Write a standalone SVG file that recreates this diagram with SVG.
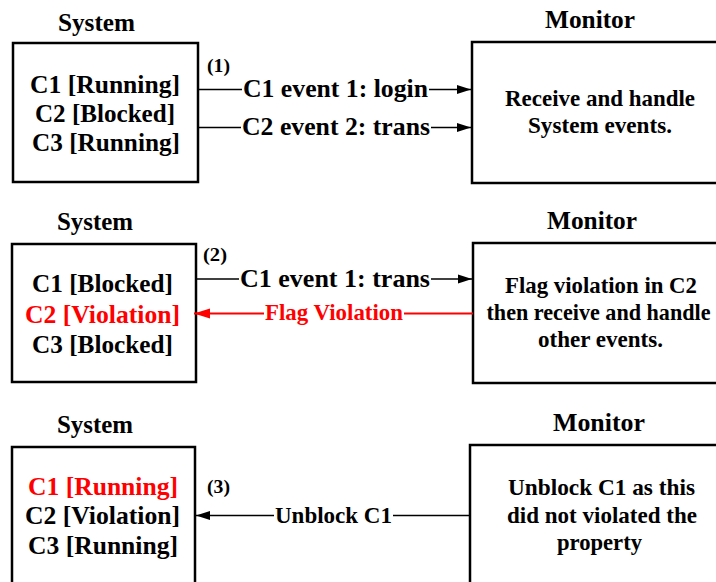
<svg xmlns="http://www.w3.org/2000/svg" width="716" height="582" viewBox="0 0 716 582">
<defs>
<marker id="ah" viewBox="0 0 14 10" refX="14" refY="5" markerWidth="14" markerHeight="10" markerUnits="userSpaceOnUse" orient="auto">
<path d="M0,0.5 L14,5 L0,9.5 z" fill="#000"/>
</marker>
<marker id="ahr" viewBox="0 0 16 11" refX="16" refY="5.5" markerWidth="16" markerHeight="11" markerUnits="userSpaceOnUse" orient="auto">
<path d="M0,0.5 L16,5.5 L0,10.5 z" fill="#f00"/>
</marker>
</defs>
<style>
text{font-family:"Liberation Serif","Times New Roman",Times,serif;font-weight:bold;fill:#000}
.ttl{font-size:25.3px;text-anchor:middle}
.st{font-size:25.6px;text-anchor:middle}
.mt{font-size:23px;text-anchor:middle}
.lb{font-size:25.7px;text-anchor:middle}
.num{font-size:19px}
.red{fill:#f00}
.box{fill:#fff;stroke:#000;stroke-width:2.5}
.ln{stroke:#000;stroke-width:1.3;fill:none}
.lnr{stroke:#f00;stroke-width:2;fill:none}
.bg{fill:#fff}
</style>
<rect width="716" height="582" fill="#fff"/>

<!-- Panel 1 -->
<g id="system1">
<text class="ttl" x="96.5" y="31" textLength="77" lengthAdjust="spacingAndGlyphs">System</text>
<rect class="box" x="13" y="43" width="185" height="139"/>
<text class="st" x="105" y="93" textLength="150" lengthAdjust="spacingAndGlyphs">C1 [Running]</text>
<text class="st" x="105" y="121.5" textLength="140" lengthAdjust="spacingAndGlyphs">C2 [Blocked]</text>
<text class="st" x="106" y="151" textLength="148" lengthAdjust="spacingAndGlyphs">C3 [Running]</text>
</g>
<g id="monitor1">
<text class="ttl" x="590" y="28" textLength="90" lengthAdjust="spacingAndGlyphs">Monitor</text>
<rect class="box" x="472" y="42" width="250" height="141"/>
<text class="mt" x="600" y="106" textLength="190" lengthAdjust="spacingAndGlyphs">Receive and handle</text>
<text class="mt" x="600" y="133" textLength="144" lengthAdjust="spacingAndGlyphs">System events.</text>
</g>

<!-- Panel 2 -->
<g id="system2">
<text class="ttl" x="95" y="230" textLength="76" lengthAdjust="spacingAndGlyphs">System</text>
<rect class="box" x="12" y="244" width="184" height="138"/>
<text class="st" x="102.5" y="292" textLength="141" lengthAdjust="spacingAndGlyphs">C1 [Blocked]</text>
<text class="st red" x="102.5" y="323" textLength="155" lengthAdjust="spacingAndGlyphs">C2 [Violation]</text>
<text class="st" x="102.5" y="353" textLength="141" lengthAdjust="spacingAndGlyphs">C3 [Blocked]</text>
</g>
<g id="monitor2">
<text class="ttl" x="592" y="229" textLength="90" lengthAdjust="spacingAndGlyphs">Monitor</text>
<rect class="box" x="473" y="243" width="250" height="140"/>
<text class="mt" x="601" y="293" textLength="192" lengthAdjust="spacingAndGlyphs">Flag violation in C2</text>
<text class="mt" x="598.5" y="320" textLength="224" lengthAdjust="spacingAndGlyphs">then receive and handle</text>
<text class="mt" x="600.5" y="347" textLength="125" lengthAdjust="spacingAndGlyphs">other events.</text>
</g>

<!-- Panel 3 -->
<g id="system3">
<text class="ttl" x="95" y="433" textLength="76" lengthAdjust="spacingAndGlyphs">System</text>
<rect class="box" x="12" y="447" width="183" height="145"/>
<text class="st red" x="103" y="495" textLength="150" lengthAdjust="spacingAndGlyphs">C1 [Running]</text>
<text class="st" x="102.5" y="524" textLength="155" lengthAdjust="spacingAndGlyphs">C2 [Violation]</text>
<text class="st" x="103" y="554" textLength="150" lengthAdjust="spacingAndGlyphs">C3 [Running]</text>
</g>
<g id="monitor3">
<text class="ttl" x="599" y="431" textLength="92" lengthAdjust="spacingAndGlyphs">Monitor</text>
<rect class="box" x="470" y="445" width="252" height="147"/>
<text class="mt" x="601.5" y="495" textLength="187" lengthAdjust="spacingAndGlyphs">Unblock C1 as this</text>
<text class="mt" x="602" y="523" textLength="190" lengthAdjust="spacingAndGlyphs">did not violated the</text>
<text class="mt" x="599.5" y="550" textLength="85" lengthAdjust="spacingAndGlyphs">property</text>
</g>

<!-- Connectors -->
<g id="connectors">
<g id="c1">
<line class="ln" x1="199" y1="89.5" x2="471" y2="89.5" marker-end="url(#ah)"/>
<rect class="bg" x="242" y="78" width="187" height="24"/>
<text class="lb" x="335.5" y="97" textLength="185" lengthAdjust="spacingAndGlyphs">C1 event 1: login</text>
<text class="num" x="207" y="72" textLength="23" lengthAdjust="spacingAndGlyphs">(1)</text>
</g>
<g id="c2">
<line class="ln" x1="199" y1="127.5" x2="471" y2="127.5" marker-end="url(#ah)"/>
<rect class="bg" x="241" y="116" width="190" height="24"/>
<text class="lb" x="336" y="135" textLength="188" lengthAdjust="spacingAndGlyphs">C2 event 2: trans</text>
</g>
<g id="c3">
<line class="ln" x1="197" y1="279" x2="472" y2="279" marker-end="url(#ah)"/>
<rect class="bg" x="239" y="267" width="192" height="24"/>
<text class="lb" x="335" y="287" textLength="190" lengthAdjust="spacingAndGlyphs">C1 event 1: trans</text>
<text class="num" x="203" y="261" textLength="24" lengthAdjust="spacingAndGlyphs">(2)</text>
</g>
<g id="c4">
<line class="lnr" x1="473" y1="313.5" x2="194" y2="313.5" marker-end="url(#ahr)"/>
<rect class="bg" x="264" y="302" width="140" height="22"/>
<text class="lb red" x="334" y="320" style="font-size:22.7px" textLength="138" lengthAdjust="spacingAndGlyphs">Flag Violation</text>
</g>
<g id="c5">
<line class="ln" x1="470" y1="515.5" x2="196" y2="515.5" marker-end="url(#ah)"/>
<rect class="bg" x="274" y="504" width="119" height="24"/>
<text class="lb" x="333.5" y="523" style="font-size:23px" textLength="117" lengthAdjust="spacingAndGlyphs">Unblock C1</text>
<text class="num" x="207" y="493" textLength="23" lengthAdjust="spacingAndGlyphs">(3)</text>
</g>
</g>
</svg>
